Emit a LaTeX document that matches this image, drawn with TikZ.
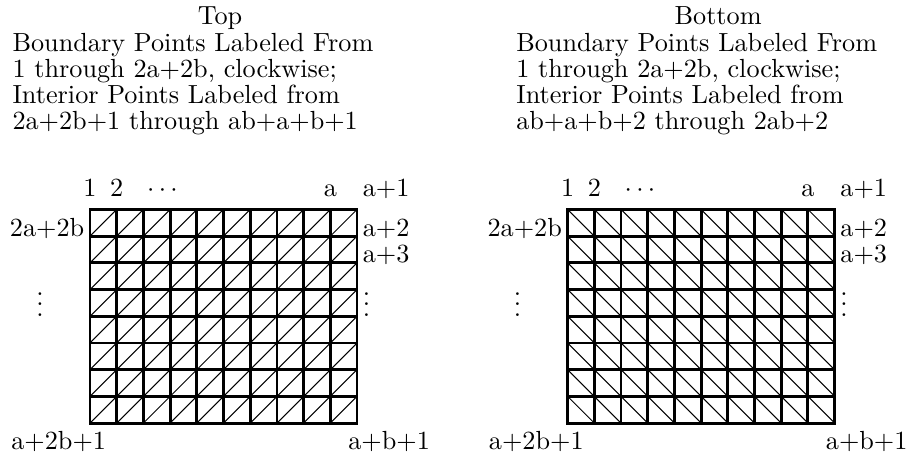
\documentclass[tikz,border=0pt]{standalone}
\usepackage{amsmath,amssymb}
\usepackage{tikz}
\usetikzlibrary{positioning}

\begin{document}
\begin{tikzpicture}[gridline/.style={black, line width=1.1pt, line cap=rect},
  diagline/.style={black, thin},
  ptlabel/.style={inner sep=2pt},
  titletext/.style={inner sep=0pt, align=left}]
  \useasboundingbox (-1.207,-0.443) rectangle (10.98,5.672);

  % Top grid, diagonals up to the right
  \begin{scope}[x=0.358cm, y=0.358cm]
    \foreach \i in {0,...,9}
      \foreach \j in {0,...,7}
        \draw[diagline] (\i,\j) -- (\i+1,\j+1);
    \foreach \i in {0,...,10}
      \draw[gridline] (\i,0) -- (\i,8);
    \foreach \j in {0,...,8}
      \draw[gridline] (0,\j) -- (10,\j);
  \end{scope}

  % Top labels
  \node[titletext, anchor=base] (toptitle) at (1.743,5.35) {Top};
  \node[titletext, anchor=base west] (topinfo) at (-1.046,3.932)
    {Boundary Points Labeled From\\[-2pt] 1 through 2a+2b, clockwise;\\[-2pt]
     Interior Points Labeled from\\[-2pt] 2a+2b+1 through ab+a+b+1};
  \node[ptlabel, anchor=base] (topone) at (0,3.04) {1};
  \node[ptlabel, anchor=base] (toptwo) at (0.358,3.04) {2};
  \node[ptlabel, anchor=base] (topdots) at (1.0,3.04) {$\cdots$};
  \node[ptlabel, anchor=base] (topa) at (3.222,3.04) {a};
  \node[ptlabel, anchor=base west] (topaone) at (3.58,3.04) {a+1};
  \node[ptlabel, anchor=base west] (topatwo) at (3.58,2.506) {a+2};
  \node[ptlabel, anchor=base west] (topathree) at (3.58,2.148) {a+3};
  \node[ptlabel, anchor=base east] (toplast) at (0,2.506) {2a+2b};
  \node[ptlabel, anchor=base] (topvleft) at (-0.67,1.435) {$\vdots$};
  \node[ptlabel, anchor=base west] (topvright) at (3.58,1.435) {$\vdots$};
  \node[ptlabel, anchor=base] (topbl) at (-0.42,-0.36) {a+2b+1};
  \node[ptlabel, anchor=base] (topbr) at (4.01,-0.36) {a+b+1};

  % Bottom grid, diagonals down to the right
  \begin{scope}[xshift=6.403cm]
    \begin{scope}[x=0.358cm, y=0.358cm]
      \foreach \i in {0,...,9}
        \foreach \j in {0,...,7}
          \draw[diagline] (\i,\j+1) -- (\i+1,\j);
      \foreach \i in {0,...,10}
        \draw[gridline] (\i,0) -- (\i,8);
      \foreach \j in {0,...,8}
        \draw[gridline] (0,\j) -- (10,\j);
    \end{scope}

    % Bottom labels
    \node[titletext, anchor=base] (bottitle) at (2.018,5.35) {Bottom};
    \node[titletext, anchor=base west] (botinfo) at (-0.695,3.932)
      {Boundary Points Labeled From\\[-2pt] 1 through 2a+2b, clockwise;\\[-2pt]
       Interior Points Labeled from\\[-2pt] ab+a+b+2 through 2ab+2};
    \node[ptlabel, anchor=base] (botone) at (0,3.04) {1};
    \node[ptlabel, anchor=base] (bottwo) at (0.358,3.04) {2};
    \node[ptlabel, anchor=base] (botdots) at (1.0,3.04) {$\cdots$};
    \node[ptlabel, anchor=base] (bota) at (3.222,3.04) {a};
    \node[ptlabel, anchor=base west] (botaone) at (3.58,3.04) {a+1};
    \node[ptlabel, anchor=base west] (botatwo) at (3.58,2.506) {a+2};
    \node[ptlabel, anchor=base west] (botathree) at (3.58,2.148) {a+3};
    \node[ptlabel, anchor=base east] (botlast) at (0,2.506) {2a+2b};
    \node[ptlabel, anchor=base] (botvleft) at (-0.67,1.435) {$\vdots$};
    \node[ptlabel, anchor=base west] (botvright) at (3.58,1.435) {$\vdots$};
    \node[ptlabel, anchor=base] (botbl) at (-0.42,-0.36) {a+2b+1};
    \node[ptlabel, anchor=base] (botbr) at (4.01,-0.36) {a+b+1};
  \end{scope}
\end{tikzpicture}
\end{document}
